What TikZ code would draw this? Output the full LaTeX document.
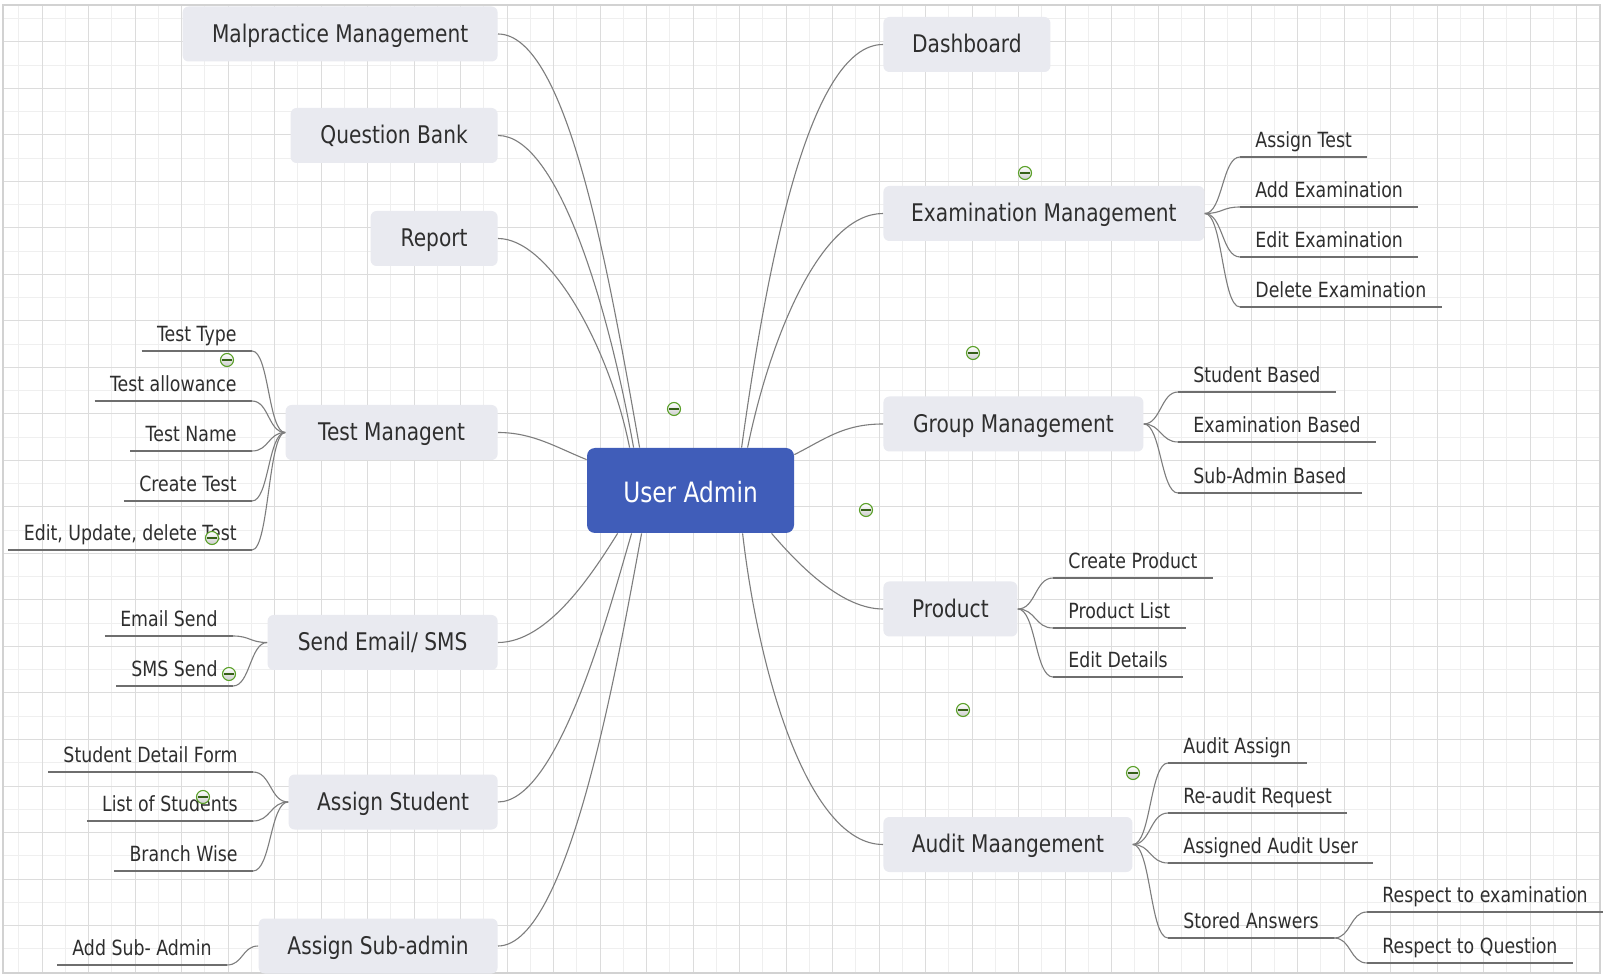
\documentclass[tikz,border=0pt]{standalone}
\usepackage{fontspec}
\setmainfont{DejaVu Sans}[FakeStretch=0.83]
\usetikzlibrary{calc}
\definecolor{topicfill}{RGB}{233,234,240}
\definecolor{centerfill}{RGB}{64,93,185}
\definecolor{txt}{RGB}{46,46,46}
\definecolor{gridminor}{RGB}{239,239,239}
\definecolor{gridmajor}{RGB}{220,220,220}
\definecolor{gridborder}{RGB}{210,210,210}
\definecolor{conncol}{RGB}{125,125,125}
\definecolor{ulcol}{RGB}{110,110,110}
\definecolor{icongreen}{RGB}{90,160,40}
\begin{document}
\begin{tikzpicture}[x=0.5pt,y=-0.5pt,
  topic/.style={rectangle, rounded corners=3pt, fill=topicfill, text=txt,
    font=\fontsize{12.15pt}{14pt}\selectfont, minimum height=27.5pt, inner sep=0pt,
    text height=9.1pt, text depth=0.8pt},
  central/.style={rectangle, rounded corners=4pt, fill=centerfill, text=white,
    font=\fontsize{14pt}{16pt}\selectfont, minimum width=103.5pt, minimum height=42.5pt, inner sep=0pt,
    text height=12.4pt, text depth=0pt},
  sub/.style={inner xsep=7.5pt, inner ysep=4.6pt, text height=7.7pt, text depth=0pt,
    font=\fontsize{10.45pt}{12pt}\selectfont, text=txt},
  conn/.style={draw=conncol, line width=0.55pt},
  uline/.style={draw=ulcol, line width=0.7pt},
  collapse/.style={circle, draw=icongreen, line width=0.55pt, inner sep=0pt, minimum size=6.5pt,
    top color=white, bottom color=gray!40,
    path picture={\draw[icongreen!60!black, line width=0.55pt]
      ([xshift=-2.4pt]path picture bounding box.center) -- ([xshift=2.4pt]path picture bounding box.center);}},
  gminor/.style={draw=gridminor, line width=0.5pt},
  gmajor/.style={draw=gridmajor, line width=0.5pt}
]
\useasboundingbox (0,0) rectangle (1608,978);
\fill[white] (0,0) rectangle (1608,978);
% grid
\foreach \i in {0,...,33} { \draw[gminor] ({18.75+46.5*\i},5) -- ({18.75+46.5*\i},973); }
\foreach \i in {0,...,20} { \draw[gminor] (3,{18.75+46.5*\i}) -- (1600,{18.75+46.5*\i}); }
\foreach \i in {0,...,33} { \draw[gmajor] ({42+46.5*\i},5) -- ({42+46.5*\i},973); }
\foreach \i in {0,...,19} { \draw[gmajor] (3,{42+46.5*\i}) -- (1600,{42+46.5*\i}); }
\draw[draw=gridborder, line width=0.9pt] (3,5) rectangle (1600,973);

% central
\node[central] (ua) at (690.5,490.5) {User Admin};
\coordinate (uaT1) at ($(ua.north west)+(43,0)$);
\coordinate (uaT2) at ($(ua.north west)+(47,0)$);
\coordinate (uaT3) at ($(ua.north west)+(53,0)$);
\coordinate (uaT4) at ($(ua.north west)+(155,0)$);
\coordinate (uaT5) at ($(ua.north west)+(161,0)$);
\coordinate (uaL) at ($(ua.north west)+(0,12)$);
\coordinate (uaR) at ($(ua.north east)+(0,7)$);
\coordinate (uaB1) at ($(ua.south west)+(31,0)$);
\coordinate (uaB2) at ($(ua.south west)+(45,0)$);
\coordinate (uaB3) at ($(ua.south west)+(55,0)$);
\coordinate (uaB4) at ($(ua.south west)+(156,0)$);
\coordinate (uaB5) at ($(ua.south west)+(185,0)$);

% left topics
\node[topic, minimum width=157.5pt, anchor=east] (mal) at (498,34) {Malpractice Management};
\node[topic, minimum width=103.5pt, anchor=east] (qb) at (498,135.5) {Question Bank};
\node[topic, minimum width=63.5pt, anchor=east] (rep) at (498,238.5) {Report};
\node[topic, minimum width=106pt, anchor=east] (tm) at (498,432.5) {Test Managent};
\node[topic, minimum width=115pt, anchor=east] (se) at (498,642.5) {Send Email/ SMS};
\node[topic, minimum width=104.5pt, anchor=east] (as) at (498,802) {Assign Student};
\node[topic, minimum width=119.5pt, anchor=east] (asa) at (498,946) {Assign Sub-admin};

% right topics
\node[topic, minimum width=83.5pt, anchor=west] (dash) at (883,44.5) {Dashboard};
\node[topic, minimum width=160.5pt, anchor=west] (exam) at (883,213.5) {Examination Management};
\node[topic, minimum width=130pt, anchor=west] (grp) at (883,424) {Group Management};
\node[topic, minimum width=67pt, anchor=west] (prod) at (883,609) {Product};
\node[topic, minimum width=124.5pt, anchor=west] (aud) at (883,844.5) {Audit Maangement};

% main connectors
\draw[conn] (mal.east) .. controls +(70,0) and +(-30,-170) .. (uaT3);
\draw[conn] (qb.east) .. controls +(60,0) and +(-25,-140) .. (uaT2);
\draw[conn] (rep.east) .. controls +(52,0) and +(-20,-100) .. (uaT1);
\draw[conn] (tm.east) .. controls +(35,0) and +(-30,-12) .. (uaL);
\draw[conn] (se.east) .. controls +(50,0) and +(-25,40) .. (uaB1);
\draw[conn] (as.east) .. controls +(62,0) and +(-20,67) .. (uaB2);
\draw[conn] (asa.east) .. controls +(72,0) and +(-22,117) .. (uaB3);
\draw[conn] (uaT4) .. controls +(26,-188) and +(-73,0) .. (dash.west);
\draw[conn] (uaT5) .. controls +(22,-108) and +(-63,0) .. (exam.west);
\draw[conn] (uaR) .. controls +(30,-15) and +(-40,0) .. (grp.west);
\draw[conn] (uaB5) .. controls +(30,35) and +(-40,0) .. (prod.west);
\draw[conn] (uaB4) .. controls +(17,147) and +(-73,0) .. (aud.west);

% Test Managent subs
\node[sub, anchor=south east] (tt1) at (252,351) {Test Type};
\node[sub, anchor=south east] (tt2) at (252,401) {Test allowance};
\node[sub, anchor=south east] (tt3) at (252,451) {Test Name};
\node[sub, anchor=south east] (tt4) at (252,501) {Create Test};
\node[sub, anchor=south east] (tt5) at (252,550) {Edit, Update, delete Test};
\foreach \n in {tt1,tt2,tt3,tt4,tt5} {
  \draw[uline] (\n.south west) -- (\n.south east);
  \draw[conn] (tm.west) .. controls +(-17,0) and +(17,0) .. (\n.south east);
}
% Send Email subs
\node[sub, anchor=south east] (es1) at (233,636) {Email Send};
\node[sub, anchor=south east] (es2) at (233,686) {SMS Send};
\foreach \n in {es1,es2} {
  \draw[uline] (\n.south west) -- (\n.south east);
  \draw[conn] (se.west) .. controls +(-17,0) and +(17,0) .. (\n.south east);
}
% Assign Student subs
\node[sub, anchor=south east] (sd1) at (253,772) {Student Detail Form};
\node[sub, anchor=south east] (sd2) at (253,821) {List of Students};
\node[sub, anchor=south east] (sd3) at (253,871) {Branch Wise};
\foreach \n in {sd1,sd2,sd3} {
  \draw[uline] (\n.south west) -- (\n.south east);
  \draw[conn] (as.west) .. controls +(-18,0) and +(18,0) .. (\n.south east);
}
% Assign Sub-admin sub
\node[sub, anchor=south east] (sa1) at (227,965) {Add Sub- Admin};
\draw[uline] (sa1.south west) -- (sa1.south east);
\draw[conn] (asa.west) .. controls +(-16,0) and +(16,0) .. (sa1.south east);

% Examination subs
\node[sub, anchor=south west] (ex1) at (1240,157) {Assign Test};
\node[sub, anchor=south west] (ex2) at (1240,207) {Add Examination};
\node[sub, anchor=south west] (ex3) at (1240,257) {Edit Examination};
\node[sub, anchor=south west] (ex4) at (1240,307) {Delete Examination};
\foreach \n in {ex1,ex2,ex3,ex4} {
  \draw[uline] (\n.south west) -- (\n.south east);
  \draw[conn] (exam.east) .. controls +(18,0) and +(-18,0) .. (\n.south west);
}
% Group subs
\node[sub, anchor=south west] (gr1) at (1178,392) {Student Based};
\node[sub, anchor=south west] (gr2) at (1178,442) {Examination Based};
\node[sub, anchor=south west] (gr3) at (1178,493) {Sub-Admin Based};
\foreach \n in {gr1,gr2,gr3} {
  \draw[uline] (\n.south west) -- (\n.south east);
  \draw[conn] (grp.east) .. controls +(17,0) and +(-17,0) .. (\n.south west);
}
% Product subs
\node[sub, anchor=south west] (pr1) at (1053,578) {Create Product};
\node[sub, anchor=south west] (pr2) at (1053,628) {Product List};
\node[sub, anchor=south west] (pr3) at (1053,677) {Edit Details};
\foreach \n in {pr1,pr2,pr3} {
  \draw[uline] (\n.south west) -- (\n.south east);
  \draw[conn] (prod.east) .. controls +(18,0) and +(-18,0) .. (\n.south west);
}
% Audit subs
\node[sub, anchor=south west] (au1) at (1168,763) {Audit Assign};
\node[sub, anchor=south west] (au2) at (1168,813) {Re-audit Request};
\node[sub, anchor=south west] (au3) at (1168,863) {Assigned Audit User};
\node[sub, anchor=south west] (au4) at (1168,938) {Stored Answers};
\foreach \n in {au1,au2,au3,au4} {
  \draw[uline] (\n.south west) -- (\n.south east);
  \draw[conn] (aud.east) .. controls +(18,0) and +(-18,0) .. (\n.south west);
}
\node[sub, anchor=south west] (rs1) at (1367,912) {Respect to examination};
\node[sub, anchor=south west] (rs2) at (1367,963) {Respect to Question};
\foreach \n in {rs1,rs2} {
  \draw[uline] (\n.south west) -- (\n.south east);
  \draw[conn] (au4.south east) .. controls +(17,0) and +(-17,0) .. (\n.south west);
}

% collapse icons
\node[collapse] (c1) at (674,409) {};
\node[collapse] (c2) at (1025,173) {};
\node[collapse] (c3) at (973,353) {};
\node[collapse] (c4) at (866,510) {};
\node[collapse] (c5) at (963,710) {};
\node[collapse] (c6) at (1133,773) {};
\node[collapse] (c7) at (227,360) {};
\node[collapse] (c8) at (212,538) {};
\node[collapse] (c9) at (229,674) {};
\node[collapse] (c10) at (203,797) {};
\end{tikzpicture}
\end{document}
